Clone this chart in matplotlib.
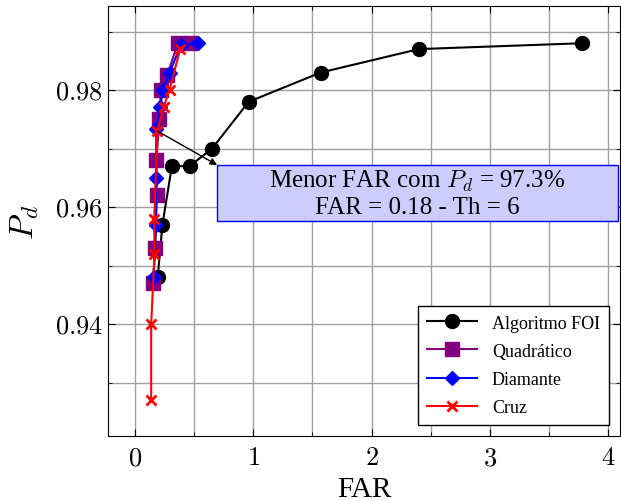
import matplotlib
matplotlib.use("Agg")
import matplotlib.pyplot as plt
from matplotlib.patches import Rectangle
from matplotlib.ticker import MultipleLocator, FuncFormatter

plt.rcParams['font.family'] = 'serif'
plt.rcParams['font.serif'] = ['Liberation Serif', 'DejaVu Serif']
plt.rcParams['mathtext.fontset'] = 'cm'

# dados
foi_far = [0.19, 0.23, 0.31, 0.46, 0.65, 0.96, 1.57, 2.40, 3.78]
foi_pd = [0.948, 0.957, 0.967, 0.967, 0.970, 0.978, 0.983, 0.987, 0.988]

quad_far = [0.150, 0.169, 0.183, 0.178, 0.205, 0.217, 0.270, 0.360, 0.470]
quad_pd = [0.947, 0.953, 0.962, 0.968, 0.975, 0.980, 0.9825, 0.988, 0.988]

diam_far = [0.155, 0.175, 0.178, 0.178, 0.212, 0.234, 0.290, 0.386, 0.527]
diam_pd = [0.948, 0.957, 0.965, 0.9733, 0.9771, 0.980, 0.9829, 0.9877, 0.988]

cruz_far = [0.135, 0.135, 0.163, 0.161, 0.187, 0.240, 0.290, 0.380]
cruz_pd = [0.927, 0.940, 0.952, 0.958, 0.973, 0.9771, 0.980, 0.987]

fig = plt.figure(figsize=(6.21, 5.02), dpi=100)
ax = fig.add_axes([0.174, 0.1295, 0.824, 0.857])

ax.plot(foi_far, foi_pd, '-o', color='black', lw=1.5, ms=10, label='Algoritmo FOI', zorder=3)
ax.plot(quad_far, quad_pd, '-s', color='#800080', lw=1.5, ms=9.5, label='Quadrático', zorder=4)
ax.plot(diam_far, diam_pd, '-D', color='blue', lw=1.5, ms=7, label='Diamante', zorder=5)
ax.plot(cruz_far, cruz_pd, '-x', color='red', lw=1.5, ms=7, mew=2, label='Cruz', zorder=6)

ax.set_xlim(-0.23, 4.1)
ax.set_ylim(0.9209, 0.9944)

ax.xaxis.set_major_locator(MultipleLocator(1))
ax.xaxis.set_minor_locator(MultipleLocator(0.5))
ax.yaxis.set_major_locator(MultipleLocator(0.02))
ax.yaxis.set_minor_locator(MultipleLocator(0.01))
ax.xaxis.set_major_formatter(FuncFormatter(lambda v, p: r'$%d$' % round(v)))
ax.yaxis.set_major_formatter(FuncFormatter(lambda v, p: r'$%.2f$' % v))
ax.tick_params(which='both', direction='in', labelsize=19, top=True, right=True)
ax.tick_params(which='major', length=5)
ax.tick_params(which='minor', length=3)
ax.tick_params(axis='x', pad=8)
ax.grid(which='both', color='#a0a0a0', lw=1)
ax.set_axisbelow(True)

ax.set_xlabel('FAR', fontsize=21, labelpad=5)
ax.set_ylabel(r'$P_d$', fontsize=24, labelpad=10)

# caixa de anotação
ax.add_patch(Rectangle((0.693, 0.9576), 3.39, 0.0096, fc='#ccccff', ec='blue',
                       lw=1, zorder=8))
ax.annotate('', xy=(0.693, 0.9672), xytext=(0.187, 0.973),
            arrowprops=dict(arrowstyle='-|>', color='black', lw=1,
                            shrinkA=0, shrinkB=0), zorder=7)
ax.text(2.388, 0.9624, 'Menor FAR com $P_d$ = 97.3%\nFAR = 0.18 - Th = 6',
        ha='center', va='center', fontsize=18, linespacing=1.2, zorder=9)

leg = ax.legend(loc='lower right', fontsize=13, fancybox=False, edgecolor='black',
                framealpha=1, handlelength=2.8, borderaxespad=0.6,
                labelspacing=0.62, borderpad=0.5)
leg.get_frame().set_linewidth(1)

fig.savefig('out.png', dpi=100)
